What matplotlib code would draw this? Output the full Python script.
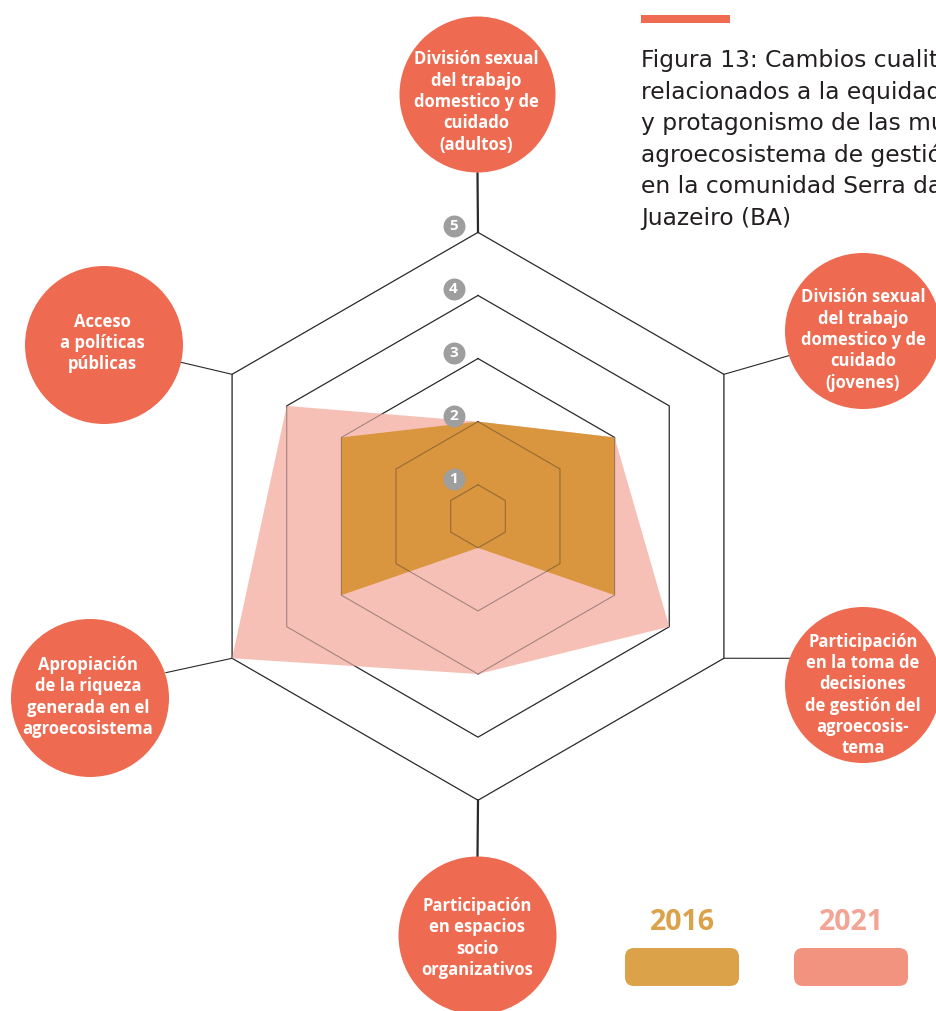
import matplotlib
matplotlib.use("Agg")
import numpy as np
import matplotlib.pyplot as plt
import matplotlib.transforms as mtransforms
from matplotlib.patches import Circle, FancyBboxPatch, ConnectionPatch

# ---------------- data ----------------
categories = [
    "División sexual\ndel trabajo\ndomestico y de\ncuidado\n(adultos)",
    "División sexual\ndel trabajo\ndomestico y de\ncuidado\n(jovenes)",
    "Participación\nen la toma de\ndecisiones\nde gestión del\nagroecosis-\ntema",
    "Participación\nen espacios\nsocio\norganizativos",
    "Apropiación\nde la riqueza\ngenerada en el\nagroecosistema",
    "Acceso\na políticas\npúblicas",
]
values_2016 = [2, 3, 3, 1, 3, 3]
values_2021 = [2, 3, 4, 3, 5, 4]
levels = [1, 2, 3, 4, 5]
years = ["2016", "2021"]
title_lines = [
    "Figura 13: Cambios cualitativos",
    "relacionados a la equidad de género",
    "y protagonismo de las mujeres en el",
    "agroecosistema de gestión",
    "en la comunidad Serra da",
    "Juazeiro (BA)",
]

# ---------------- style / layout ----------------
W, H = 937, 1011
CX, CY = 478, 516.3
PX_PER_UNIT = 63.1
R0, RMAX = 0.5, 5.4
C_2016 = "#D9963E"
C_2021 = "#F7C0B7"
C_LEG_2016 = "#DBA24A"
C_LEG_2021 = "#F2937F"
C_TXT_2021 = "#F4A495"
C_CIRCLE = "#EE6A50"
C_BADGE = "#9E9E9E"
LINE = "#2a2a2a"
FONT = "Open Sans"
TITLE_FONT = "DejaVu Sans"

# label circles (pixel layout): center, radius, text center, connector end
circle_pos = [(477.5, 94.5), (863, 331), (863, 685), (477.5, 935.5), (90, 698), (104, 345)]
circle_rad = [78, 78, 78, 79, 79, 79]
text_pos = [(476, 102), (863, 340), (863, 695), (477, 938), (88, 697), (102, 343)]
conn_end = [(477.5, 173), (790, 355.3), (790, 658.3), (477.5, 857), (165.7, 672.7), (181, 362.3)]
conn_lw = [1.6, 0.8, 0.8, 1.6, 0.8, 0.8]

fig = plt.figure(figsize=(W / 100, H / 100), dpi=100)

Rpx = (RMAX - R0) * PX_PER_UNIT
ax = fig.add_axes([(CX - Rpx) / W, (H - CY - Rpx) / H, 2 * Rpx / W, 2 * Rpx / H],
                  projection="polar")
ax.set_theta_offset(np.pi / 2)
ax.set_theta_direction(-1)
ax.set_ylim(R0, RMAX)
ax.axis("off")

n = len(categories)
theta = np.arange(n) * 2 * np.pi / n
th_c = np.append(theta, theta[0])

# grid hexagons (under)
for lv in levels:
    ax.plot(th_c, [lv] * (n + 1), color=LINE, lw=0.8, zorder=1)

ax.fill(th_c, values_2021 + values_2021[:1], color=C_2021, lw=0, zorder=2)
ax.fill(th_c, values_2016 + values_2016[:1], color=C_2016, lw=0, zorder=3)

# grid hexagons (muted, over fills)
for lv in levels:
    ax.plot(th_c, [lv] * (n + 1), color=LINE, lw=0.8, alpha=0.4, zorder=4)

# level badges
trans = ax.transData + mtransforms.ScaledTranslation(-24.4 / 100, 6 / 100, fig.dpi_scale_trans)
ax.plot([0] * len(levels), levels, "o", ms=15.8, color=C_BADGE, mec="none",
        transform=trans, clip_on=False, zorder=6)
for lv in levels:
    ax.text(0, lv, str(lv), transform=trans, ha="center", va="center", color="white",
            fontsize=11, fontweight="bold", family=FONT, zorder=7)

# overlay in pixel coordinates
ov = fig.add_axes([0, 0, 1, 1])
ov.set_xlim(0, W)
ov.set_ylim(H, 0)
ov.axis("off")

for i in range(n):
    con = ConnectionPatch(xyA=(theta[i], levels[-1]), coordsA=ax.transData,
                          xyB=conn_end[i], coordsB=ov.transData,
                          color=LINE, lw=conn_lw[i], zorder=1)
    ov.add_artist(con)
    ov.add_patch(Circle(circle_pos[i], circle_rad[i], color=C_CIRCLE, lw=0, zorder=2))
    ov.text(text_pos[i][0], text_pos[i][1], categories[i], ha="center", va="center",
            multialignment="center", color="white", fontsize=12, fontweight="bold",
            family=FONT, linespacing=1.24, zorder=3)

# title block
ov.add_patch(FancyBboxPatch((641, 15), 89, 7.5, boxstyle="square,pad=0", color=C_CIRCLE, lw=0))
for i, line in enumerate(title_lines):
    ov.text(641, 61 + i * 31.4, line, ha="left", va="center", fontsize=16.8,
            color="#231F20", family=TITLE_FONT)

# legend
leg_x = [682, 851]
leg_text_c = [C_LEG_2016, C_TXT_2021]
leg_box_c = [C_LEG_2016, C_LEG_2021]
for i, yr in enumerate(years):
    ov.text(leg_x[i], 923, yr, ha="center", va="center", fontsize=20.5, fontweight="bold",
            color=leg_text_c[i], family=FONT)
    ov.add_patch(FancyBboxPatch((leg_x[i] - 57, 948), 114, 38,
                                boxstyle="round,pad=0,rounding_size=9",
                                color=leg_box_c[i], lw=0))

fig.savefig("out.png", dpi=100)
